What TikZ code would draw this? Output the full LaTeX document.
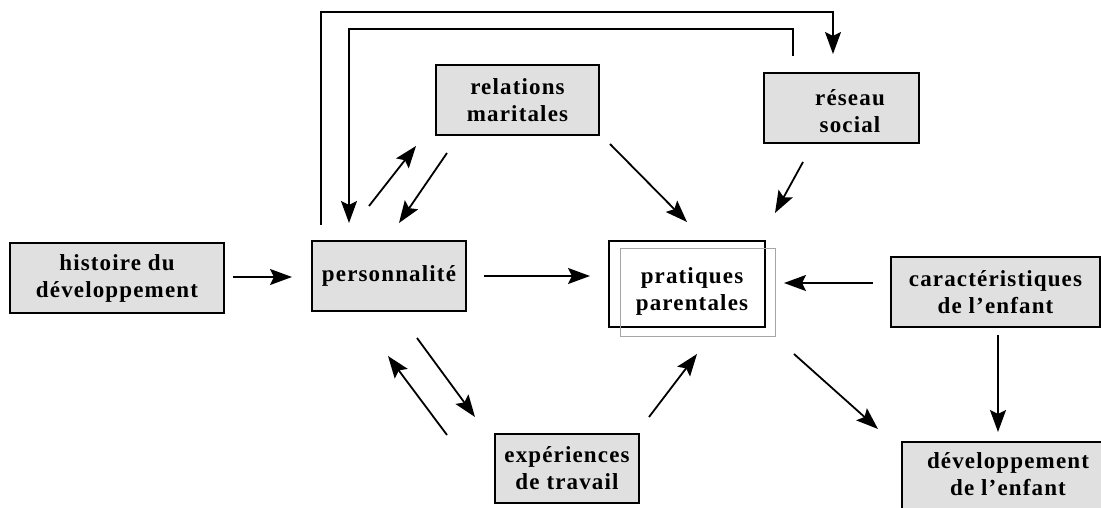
\documentclass[tikz,border=0pt]{standalone}
\usepackage{fontspec}
\setmainfont{Liberation Serif}[LetterSpace=5]
\usetikzlibrary{arrows.meta}
\tikzset{
  lbl/.style={font=\bfseries\fontsize{23}{27}\selectfont, align=center, inner sep=0pt},
  box/.style={lbl, draw, line width=1.3pt, fill=black!12},
  arr/.style={line width=1.8pt, -{Stealth[length=22pt,width=16pt,inset=4pt]}},
  loop/.style={line width=1.3pt, -{Stealth[length=22pt,width=16pt,inset=4pt]}},
}
\begin{document}
\begin{tikzpicture}[x=1pt,y=-1pt]
\clip (0,0) rectangle (1101,508);
\fill[white] (0,0) rectangle (1101,508);

% boxes
\node[box, minimum width=214pt, minimum height=70pt] (hist) at (117,278) {histoire du\\développement};
\node[box, minimum width=154pt, minimum height=70pt] (pers) at (389,276) {personnalité};
\node[box, minimum width=163pt, minimum height=70pt] (rel) at (517.5,100) {relations\\maritales};
\node[box, minimum width=155pt, minimum height=70pt] (res) at (841.5,108) {};
\node[lbl] (restext) at (850,111) {réseau\\social};
\node[box, minimum width=209pt, minimum height=70pt] (car) at (995.5,292) {caractéristiques\\de l’enfant};
\node[box, minimum width=144pt, minimum height=69pt] (exp) at (567,468.5) {expériences\\de travail};
\node[box, minimum width=218pt, minimum height=90pt] (dev) at (1011,487) {};
\node[lbl] (devtext) at (1008,474) {développement\\de l’enfant};

% parenting practices: framed box with a thin grey offset frame over it
\node[draw, line width=1.4pt, fill=white, minimum width=156pt, minimum height=86pt, inner sep=0pt] (prat) at (687,284) {};
\node[draw=black!35, line width=0.6pt, minimum width=155pt, minimum height=88pt, inner sep=0pt] (pratshadow) at (697.5,292) {};
\node[lbl] (pratext) at (692,291) {pratiques\\parentales};

% arrow end points
\coordinate (a1) at (233,277);  \coordinate (a2) at (292,277);
\coordinate (b1) at (484,276);  \coordinate (b2) at (590,276);
\coordinate (c1) at (369,206);  \coordinate (c2) at (416,146);
\coordinate (d1) at (447,153);  \coordinate (d2) at (399,223);
\coordinate (e1) at (610,144);  \coordinate (e2) at (687,222);
\coordinate (f1) at (803,162);  \coordinate (f2) at (775,213);
\coordinate (g1) at (873,283);  \coordinate (g2) at (784,283);
\coordinate (h1) at (794,354);  \coordinate (h2) at (878,429);
\coordinate (i1) at (998,335);  \coordinate (i2) at (998,432);
\coordinate (j1) at (447,435);  \coordinate (j2) at (388,356);
\coordinate (k1) at (417,338);  \coordinate (k2) at (475,417);
\coordinate (l1) at (649,417);  \coordinate (l2) at (697,354);
\coordinate (m1) at (321,225);  \coordinate (m2) at (833,54);
\coordinate (n1) at (793,56);   \coordinate (n2) at (349,223);

% connectors
\draw[arr] (a1) -- (a2);
\draw[arr] (b1) -- (b2);
\draw[arr] (c1) -- (c2);
\draw[arr] (d1) -- (d2);
\draw[arr] (e1) -- (e2);
\draw[arr] (f1) -- (f2);
\draw[arr] (g1) -- (g2);
\draw[arr] (h1) -- (h2);
\draw[arr] (i1) -- (i2);
\draw[arr] (j1) -- (j2);
\draw[arr] (k1) -- (k2);
\draw[arr] (l1) -- (l2);

% feedback loops over the top
\draw[loop] (m1) -- (321,12) -- (833,12) -- (m2);
\draw[loop] (n1) -- (793,29) -- (349,29) -- (n2);
\end{tikzpicture}
\end{document}
